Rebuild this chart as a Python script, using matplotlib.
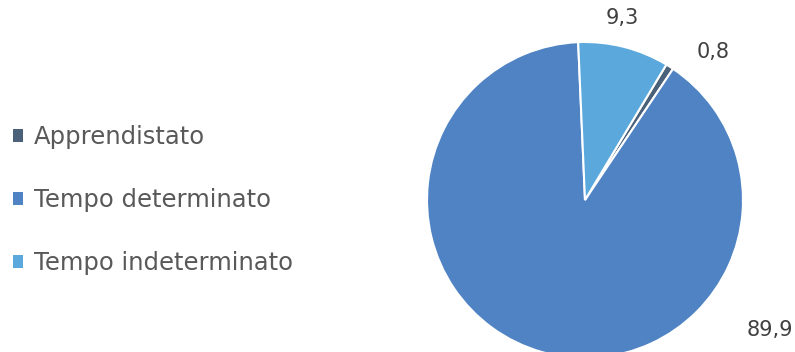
import matplotlib
matplotlib.use("Agg")
import matplotlib.pyplot as plt
from matplotlib.patches import Patch

categories = ["Apprendistato", "Tempo determinato", "Tempo indeterminato"]
values = [0.8, 89.9, 9.3]
colors = ["#4a6179", "#4f83c3", "#5ba8dc"]

W, H = 795, 352
fig = plt.figure(figsize=(W / 100, H / 100), dpi=100)
plt.rcParams['font.family'] = ['DejaVu Sans']

cx, cy, r = 585, 200, 158
ax = fig.add_axes([(cx - r) / W, (H - cy - r) / H, 2 * r / W, 2 * r / H])
wedges, _ = ax.pie(values, colors=colors, startangle=59, counterclock=False,
                   wedgeprops=dict(edgecolor="white", linewidth=1.5))
ax.set_xlim(-1, 1)
ax.set_ylim(-1, 1)
ax.set_aspect("equal")
for w in wedges:
    w.set_clip_on(False)

def fmt(v):
    return f"{v:.1f}".replace(".", ",")

# label positions (in pie radius units relative to centre)
label_pos = [(128 / r, 148 / r), (185 / r, -130 / r), (37 / r, 182 / r)]
for v, (x, y) in zip(values, label_pos):
    ax.text(x, y, fmt(v), ha="center", va="center", fontsize=15,
            color="#404040", clip_on=False)

handles = [Patch(facecolor=c, edgecolor="none") for c in colors]
fig.legend(handles, categories, loc="center left", bbox_to_anchor=(13 / W, (H - 200) / H),
           frameon=False, fontsize=17.5, handlelength=0.43, handleheight=0.43,
           handletextpad=0.42, labelspacing=1.6, labelcolor="#595959",
           borderpad=0, borderaxespad=0)

fig.savefig("out.png", dpi=100)
